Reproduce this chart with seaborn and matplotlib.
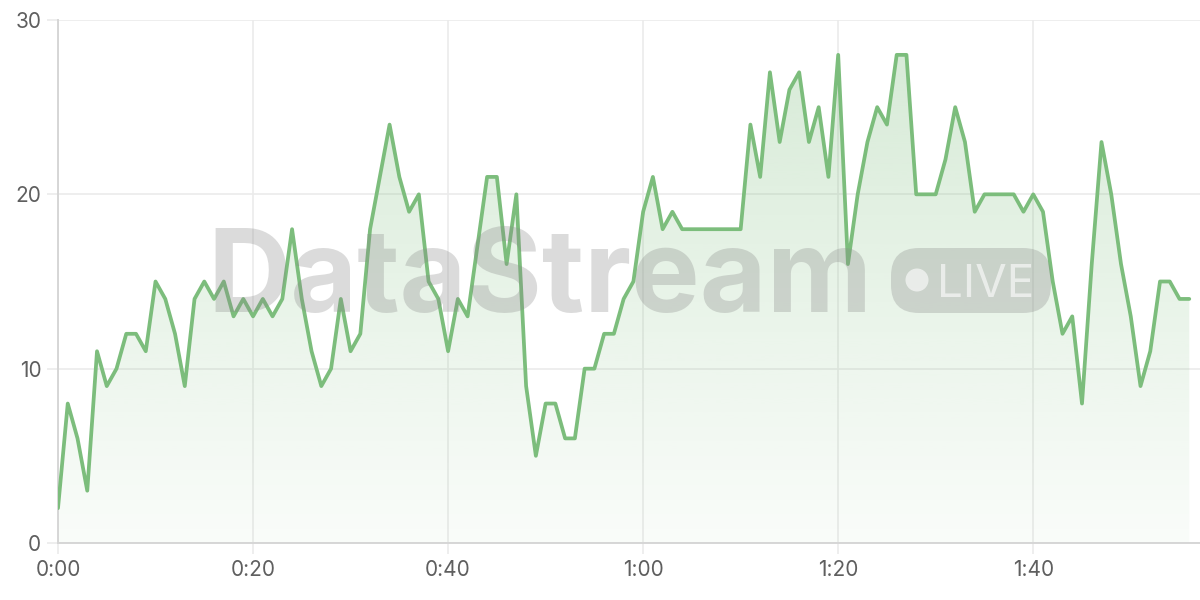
import numpy as np
import pandas as pd
import matplotlib
matplotlib.use("Agg")
import matplotlib.pyplot as plt
from matplotlib.patches import FancyBboxPatch, Circle
from matplotlib.transforms import IdentityTransform
import seaborn as sns

#Chart data - one reading per second
seconds = list(range(117))
readings = [
    2, 8, 6, 3, 11, 9, 10, 12, 12, 11,
    15, 14, 12, 9, 14, 15, 14, 15, 13, 14,
    13, 14, 13, 14, 18, 14, 11, 9, 10, 14,
    11, 12, 18, 21, 24, 21, 19, 20, 15, 14,
    11, 14, 13, 17, 21, 21, 16, 20, 9, 5,
    8, 8, 6, 6, 10, 10, 12, 12, 14, 15,
    19, 21, 18, 19, 18, 18, 18, 18, 18, 18,
    18, 24, 21, 27, 23, 26, 27, 23, 25, 21,
    28, 16, 20, 23, 25, 24, 28, 28, 20, 20,
    20, 22, 25, 23, 19, 20, 20, 20, 20, 19,
    20, 19, 15, 12, 13, 8, 16, 23, 20, 16,
    13, 9, 11, 15, 15, 14, 14,
]
x_ticks = [0, 20, 40, 60, 80, 100]
x_tick_labels = ["0:00", "0:20", "0:40", "1:00", "1:20", "1:40"]
y_ticks = [0, 10, 20, 30]

LINE = "#7cbd7c"
GRID = "#ebebeb"

df = pd.DataFrame({"t": seconds, "v": readings})

sns.set_theme(style="white")
plt.rcParams["font.family"] = ["Inter", "DejaVu Sans"]

fig = plt.figure(figsize=(12, 6), dpi=100)
ax = fig.add_axes([58 / 1200, 57 / 600, 1 - 58 / 1200, 523 / 600])

#Gradient fill under the line
poly = ax.fill_between(df["t"], df["v"], 0, color="none", lw=0)
rgb = matplotlib.colors.to_rgb(LINE)
grad = np.zeros((256, 1, 4))
grad[:, 0, :3] = rgb
grad[:, 0, 3] = np.linspace(0.32, 0.04, 256)
img = ax.imshow(grad, extent=[0, 116, 0, 30], origin="upper",
                aspect="auto", zorder=1)
img.set_clip_path(poly.get_paths()[0], transform=ax.transData)

sns.lineplot(data=df, x="t", y="v", ax=ax, color=LINE, lw=2.7, zorder=4)

ax.set_xlim(0, 117.1)
ax.set_ylim(0, 30)
ax.set_xticks(x_ticks)
ax.set_xticklabels(x_tick_labels)
ax.set_yticks(y_ticks)
ax.set_xlabel("")
ax.set_ylabel("")
ax.grid(True, color=GRID, lw=1.2, zorder=0)
ax.tick_params(length=8, width=1.2, color=GRID, labelcolor="#5f5f5f",
               labelsize=15, pad=4, left=True, bottom=True)
for s in ["top", "right"]:
    ax.spines[s].set_visible(False)
for s in ["left", "bottom"]:
    ax.spines[s].set_color("#d6d6d6")
    ax.spines[s].set_linewidth(1.4)

#Watermark (pixel coordinates, origin bottom-left)
fig.text(207 / 1200, 1 - 312 / 600, "DataStream", fontsize=83,
         fontweight="bold", color="#888888", alpha=0.3,
         ha="left", va="baseline", zorder=3)
pill = FancyBboxPatch((891, 287), 160, 65,
                      boxstyle="round,pad=0,rounding_size=28",
                      transform=IdentityTransform(),
                      facecolor="#888888", alpha=0.3, edgecolor="none", zorder=3)
fig.patches.append(pill)
dot = Circle((917, 320), 11.5, transform=IdentityTransform(),
             facecolor="white", alpha=0.6, edgecolor="none", zorder=3)
fig.patches.append(dot)
fig.text(937 / 1200, 1 - 297 / 600, "LIVE", fontsize=33, color="white",
         alpha=0.6, ha="left", va="baseline", zorder=3)

plt.savefig("out.png", dpi=100)
